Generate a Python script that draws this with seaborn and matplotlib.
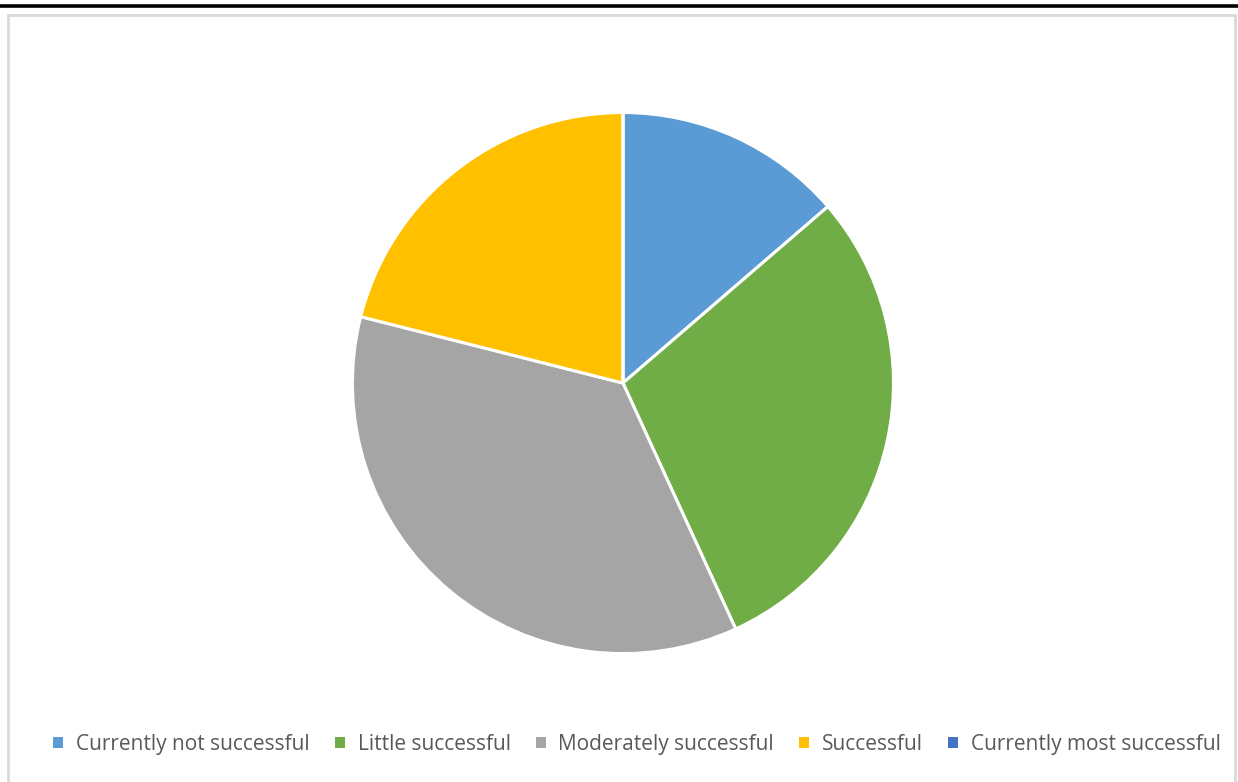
import matplotlib
matplotlib.use("Agg")
import matplotlib.pyplot as plt
import seaborn as sns
from matplotlib.patches import Rectangle
from matplotlib.lines import Line2D

categories = ["Currently not successful", "Little successful", "Moderately successful",
              "Successful", "Currently most successful"]
values = [13, 28, 34, 20, 0]
colors = ["#5B9BD5", "#70AD47", "#A5A5A5", "#FFC000", "#4472C4"]

sns.set_theme(style="white")
plt.rcParams['font.family'] = ['Open Sans', 'DejaVu Sans']

fig = plt.figure(figsize=(12.38, 7.82), dpi=100)
palette = sns.color_palette(colors)

ax = fig.add_axes([0.2851, 0.1649, 0.4362, 0.6905])
wedges, _ = ax.pie(values, colors=palette, startangle=90, counterclock=False,
                   radius=1.0, wedgeprops=dict(edgecolor="white", linewidth=2.2))
ax.set_xlim(-0.998, 0.998)
ax.set_ylim(-0.998, 0.998)
ax.set_aspect("equal")
ax.axis("off")

# frame
fig.add_artist(Line2D([0, 1], [1 - 6 / 782, 1 - 6 / 782], color="black", lw=2.6,
                      transform=fig.transFigure))
fig.add_artist(Rectangle((8 / 1238, -0.01), (1235 - 8) / 1238, 1 - 15 / 782 + 0.01,
                         transform=fig.transFigure, fill=False, edgecolor="#D9D9D9", lw=2))

handles = [Rectangle((0, 0), 1, 1, facecolor=c, edgecolor="none") for c in palette]
leg = fig.legend(handles, categories, loc="center", bbox_to_anchor=(0.5145, 0.048),
                 ncol=5, frameon=False, fontsize=15, handlelength=0.48, handleheight=0.48,
                 handletextpad=0.62, columnspacing=1.2)
for t in leg.get_texts():
    t.set_color("#595959")

fig.savefig("out.png", dpi=100)
